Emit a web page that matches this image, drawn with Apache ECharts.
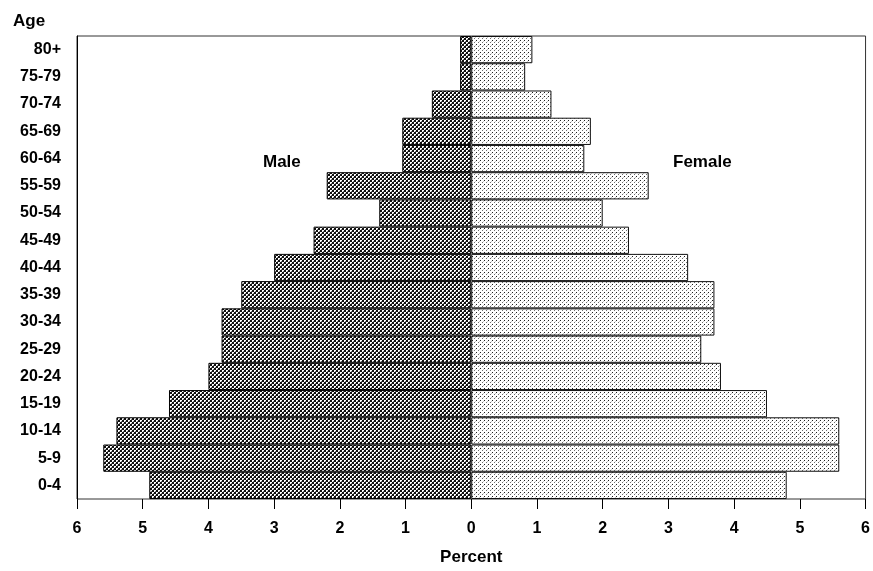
<!DOCTYPE html>
<html>
<head>
<meta charset="utf-8">
<script src="https://cdn.jsdelivr.net/npm/echarts@6/dist/echarts.min.js"></script>
<style>
  html, body { margin: 0; padding: 0; background: #fff; }
  #chart { width: 873px; height: 571px; }
</style>
</head>
<body>
<div id="chart"></div>
<script>
// age groups, bottom to top
const ageGroups = ["0-4", "5-9", "10-14", "15-19", "20-24", "25-29", "30-34", "35-39",
  "40-44", "45-49", "50-54", "55-59", "60-64", "65-69", "70-74", "75-79", "80+"];
// percent of population
const maleValues = [4.9, 5.6, 5.4, 4.6, 4.0, 3.8, 3.8, 3.5, 3.0, 2.4, 1.4, 2.2, 1.05, 1.05, 0.6, 0.17, 0.17];
const femaleValues = [4.8, 5.6, 5.6, 4.5, 3.8, 3.5, 3.7, 3.7, 3.3, 2.4, 2.0, 2.7, 1.72, 1.82, 1.22, 0.82, 0.93];
const percentTicks = [-6, -5, -4, -3, -2, -1, 0, 1, 2, 3, 4, 5, 6];

const font = "Liberation Sans";

// small tiles used as fill patterns
function makeTile(size, paint) {
  const c = document.createElement("canvas");
  c.width = size;
  c.height = size;
  const ctx = c.getContext("2d");
  const img = ctx.createImageData(size, size);
  for (let y = 0; y < size; y++) {
    for (let x = 0; x < size; x++) {
      const v = paint(x, y);
      const i = (y * size + x) * 4;
      img.data[i] = v;
      img.data[i + 1] = v;
      img.data[i + 2] = v;
      img.data[i + 3] = 255;
    }
  }
  ctx.putImageData(img, 0, 0);
  return c;
}

// cross hatch for males: white holes on a dark diagonal grid
const hatch = makeTile(4, (x, y) => {
  const inHole = (x < 2 && y < 2) || (x >= 2 && y >= 2);
  if (!inHole) return 15;
  // knock one corner of each hole so it reads as a diamond
  if ((x === 1 && y === 1) || (x === 3 && y === 3)) return 120;
  return 255;
});
// sparse dots for females
const stipple = makeTile(4, (x, y) => {
  if (x === 0 && y === 0) return 30;
  if (x === 2 && y === 2) return 110;
  if (x === 3 && y === 1) return 200;
  return 255;
});

const chart = echarts.init(document.getElementById("chart"));

const option = {
  animation: false,
  backgroundColor: "#fff",
  grid: {
    left: 77,
    right: 6,
    top: 36,
    bottom: 69,
    show: true,
    borderColor: "#333",
    borderWidth: 1,
  },
  graphic: [
    { type: "text", left: 13, top: 13, style: { text: "Age", font: "bold 17px " + font, fill: "#000" } },
    { type: "text", left: 263, top: 154, style: { text: "Male", font: "bold 17px " + font, fill: "#000" } },
    { type: "text", left: 673, top: 154, style: { text: "Female", font: "bold 17px " + font, fill: "#000" } },
  ],
  xAxis: {
    type: "value",
    min: percentTicks[0],
    max: percentTicks[percentTicks.length - 1],
    interval: 1,
    name: "Percent",
    nameLocation: "middle",
    nameGap: 50,
    nameTextStyle: { color: "#000", fontFamily: font, fontWeight: "bold", fontSize: 17 },
    axisLine: { lineStyle: { color: "#000", width: 1 } },
    axisTick: { show: true, length: 10, lineStyle: { color: "#000" } },
    axisLabel: {
      color: "#000",
      fontFamily: font,
      fontWeight: "bold",
      fontSize: 16,
      margin: 22,
      formatter: (v) => Math.abs(v),
    },
    splitLine: { show: false },
  },
  yAxis: {
    type: "category",
    data: ageGroups,
    axisLine: { onZero: false, lineStyle: { color: "#000" } },
    axisTick: { show: false },
    axisLabel: {
      color: "#000",
      fontFamily: font,
      fontWeight: "bold",
      fontSize: 16,
      margin: 16,
    },
  },
  series: [
    {
      name: "Male",
      type: "bar",
      stack: "pop",
      barCategoryGap: "0%",
      data: maleValues.map((v) => -v),
      itemStyle: {
        color: { image: hatch, repeat: "repeat" },
        borderColor: "#000",
        borderWidth: 1,
      },
    },
    {
      name: "Female",
      type: "bar",
      stack: "pop",
      barCategoryGap: "0%",
      data: femaleValues,
      itemStyle: {
        color: { image: stipple, repeat: "repeat" },
        borderColor: "#111",
        borderWidth: 1,
      },
    },
  ],
};

chart.setOption(option);
</script>
</body>
</html>
